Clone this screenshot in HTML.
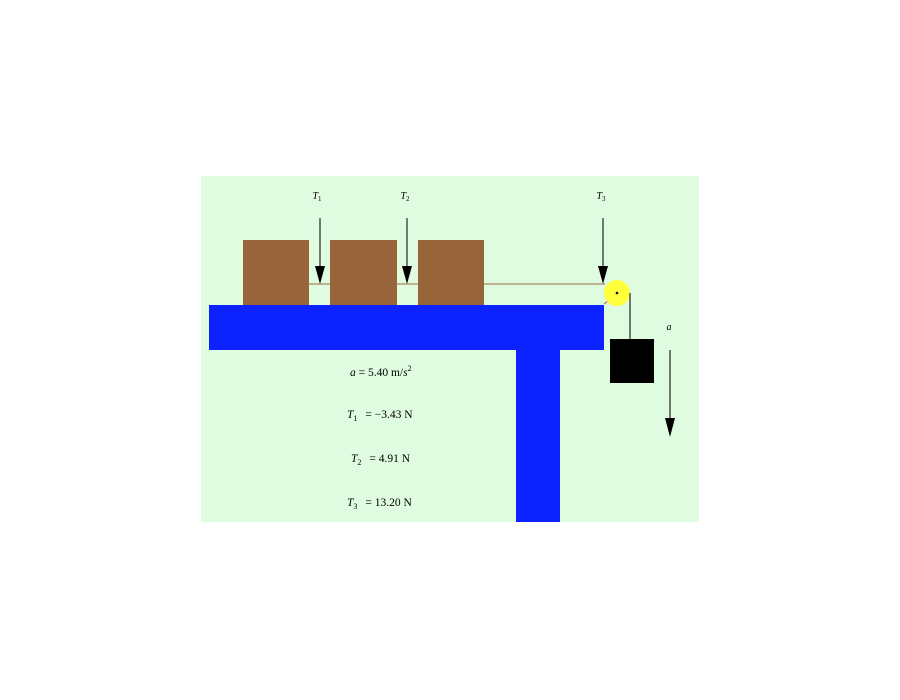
<!DOCTYPE html>
<html><head><meta charset="utf-8"><style>html,body{margin:0;padding:0;background:#fff}svg{display:block}</style></head>
<body>
<svg width="900" height="700" viewBox="0 0 900 700" xmlns="http://www.w3.org/2000/svg" font-family="Liberation Serif, serif">
<defs><marker id="ah" markerWidth="10" markerHeight="20" refX="5" refY="19" orient="auto-start-reverse" markerUnits="userSpaceOnUse" viewBox="0 0 10 20"><path d="M0,0 L10,0 L5,20 Z" fill="#000"/></marker></defs>
<rect x="201" y="176" width="498" height="346" fill="#e0fce0"/>
<rect x="209" y="305" width="395" height="45" fill="#0c22ff"/>
<rect x="516" y="350" width="44" height="172" fill="#0c22ff"/>
<line x1="309" y1="284" x2="605" y2="284" stroke="#9a6a40" stroke-width="1"/>
<line x1="604" y1="304" x2="609" y2="300" stroke="#9a6a40" stroke-width="1"/>
<rect x="243" y="240" width="66" height="65" fill="#976539"/>
<rect x="330" y="240" width="67" height="65" fill="#976539"/>
<rect x="418" y="240" width="66" height="65" fill="#976539"/>
<circle cx="617" cy="293" r="13" fill="#ffff3c"/>
<circle cx="617" cy="293" r="1.3" fill="#000"/>
<line x1="630" y1="293" x2="630" y2="339" stroke="#222" stroke-width="1.2"/>
<rect x="610" y="339" width="44" height="44" fill="#000"/>
<g stroke="#333" stroke-width="1.3">
<line x1="320" y1="218" x2="320" y2="268"/>
<line x1="407" y1="218" x2="407" y2="268"/>
<line x1="603" y1="218" x2="603" y2="268"/>
<line x1="670" y1="350" x2="670" y2="420"/>
</g>
<g fill="#000">
<path d="M315,266 L325,266 L320,284 Z"/>
<path d="M402,266 L412,266 L407,284 Z"/>
<path d="M598,266 L608,266 L603,284 Z"/>
<path d="M665,418 L675,418 L670,437 Z"/>
</g>
<g font-size="10" font-style="italic" text-anchor="middle">
<text x="317" y="199">T<tspan font-size="7" font-style="normal" dy="2">1</tspan></text>
<text x="405" y="199">T<tspan font-size="7" font-style="normal" dy="2">2</tspan></text>
<text x="601" y="199">T<tspan font-size="7" font-style="normal" dy="2">3</tspan></text>
<text x="669" y="330">a</text>
</g>
<g font-size="11.5">
<text x="350" y="376"><tspan font-style="italic">a</tspan> = 5.40 m/<tspan font-style="italic">s</tspan><tspan font-size="8" dy="-5">2</tspan></text>
<text x="347" y="418"><tspan font-style="italic">T</tspan><tspan font-size="8" dy="3">1</tspan><tspan dy="-3" dx="8">= −3.43 N</tspan></text>
<text x="351" y="462"><tspan font-style="italic">T</tspan><tspan font-size="8" dy="3">2</tspan><tspan dy="-3" dx="8">= 4.91 N</tspan></text>
<text x="347" y="506"><tspan font-style="italic">T</tspan><tspan font-size="8" dy="3">3</tspan><tspan dy="-3" dx="8">= 13.20 N</tspan></text>
</g>
</svg>
</body></html>
